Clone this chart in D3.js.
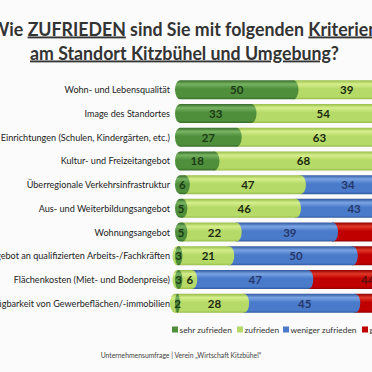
<!DOCTYPE html>
<html><head><meta charset="utf-8">
<script src="https://cdn.jsdelivr.net/npm/d3@7"></script>
<style>
html,body{margin:0;padding:0;background:#fbfbfb;overflow:hidden;}
svg{display:block;}
</style></head>
<body>
<script>
const categories = [
  "Wohn- und Lebensqualität",
  "Image des Standortes",
  "Soziale Einrichtungen (Schulen, Kindergärten, etc.)",
  "Kultur- und Freizeitangebot",
  "Überregionale Verkehrsinfrastruktur",
  "Aus- und Weiterbildungsangebot",
  "Wohnungsangebot",
  "Angebot an qualifizierten Arbeits-/Fachkräften",
  "Flächenkosten (Miet- und Bodenpreise)",
  "Verfügbarkeit von Gewerbeflächen/-immobilien"
];
const seriesNames = ["sehr zufrieden","zufrieden","weniger zufrieden","gar nicht zufrieden"];
const sehrZufrieden    = [50,33,27,18,6,5,5,3,3,2];
const zufrieden        = [39,54,63,68,47,46,22,21,6,28];
const wenigerZufrieden = [9,11,9,12,34,43,39,50,47,45];
const garNicht         = [2,2,1,2,13,6,34,26,44,25];
const seriesValues = [sehrZufrieden, zufrieden, wenigerZufrieden, garNicht];
const colors = ["#4f8f3c","#b6da68","#4a7bca","#c00000"];
const lightC = ["#78b362","#d6ee8c","#7aa3e3","#e03828"];
const darkC  = ["#356b28","#97bd48","#30599f","#900000"];
const labelColors = ["#1d3a17","#1d2a10","#26386a","#5a1010"];
const titleLine1 = [["Wie ",false],["ZUFRIEDEN",true],[" sind Sie mit folgenden ",false],["Kriterien",true]];
const titleLine2 = [["am Standort Kitzbühel und Umgebung",true],["?",false]];
const sourceText = "Unternehmensumfrage | Verein „Wirtschaft Kitzbühel“";

const W=372,H=372;
const FONT="Lato, 'Open Sans', sans-serif";
const svg=d3.select("body").append("svg").attr("width",W).attr("height",H);
svg.append("rect").attr("width",W).attr("height",H).attr("fill","#fbfbfb");

const defs=svg.append("defs");
colors.forEach((c,i)=>{
  const g=defs.append("linearGradient").attr("id","g"+i).attr("x1",0).attr("y1",0).attr("x2",0).attr("y2",1);
  g.append("stop").attr("offset","0%").attr("stop-color",darkC[i]);
  g.append("stop").attr("offset","20%").attr("stop-color",lightC[i]);
  g.append("stop").attr("offset","45%").attr("stop-color",c);
  g.append("stop").attr("offset","88%").attr("stop-color",c);
  g.append("stop").attr("offset","100%").attr("stop-color",darkC[i]);
});

// title
const cx=184.5, tfs=18.5;
function titleLine(parts,y){
  const t=svg.append("text").attr("x",cx).attr("y",y).attr("text-anchor","middle")
    .attr("font-family",FONT).attr("font-weight","bold").attr("fill","#333")
    .attr("font-size",tfs);
  parts.forEach(p=>t.append("tspan").text(p[0]).attr("text-decoration",p[1]?"underline":null));
  return t;
}
const t2=titleLine(titleLine2,59.5);
const t1=titleLine(titleLine1,35.5);
const w2=t2.node().getComputedTextLength();
const w1=t1.node().getComputedTextLength();
const k=309/w2;
t2.attr("textLength",w2*k).attr("lengthAdjust","spacingAndGlyphs");
t1.attr("textLength",w1*k).attr("lengthAdjust","spacingAndGlyphs");

const x=d3.scaleLinear().domain([0,100]).range([175,422]);
const y=d3.scaleBand().domain(categories).range([75.5,317.5]).padding(0.2);
const bh=y.bandwidth();
const rx=5;

// category labels
svg.append("g").selectAll("text").data(categories).join("text")
  .attr("x",170).attr("y",d=>y(d)+bh/2+3.5).attr("text-anchor","end")
  .attr("font-family",FONT).attr("font-size",9.1).attr("fill","#222")
  .text(d=>d);

// bars
const rows=categories.map((c,ri)=>{
  let acc=0;
  return seriesValues.map((s,si)=>{const v=s[ri];const d={cat:c,si,v,x0:acc,x1:acc+v};acc+=v;return d;});
});
const rowG=svg.append("g").selectAll("g").data(rows).join("g");
rowG.each(function(segs){
  const g=d3.select(this);
  segs.slice().reverse().forEach(d=>{
    const xs = d.si===0 ? x(d.x0) : x(d.x0)-2*rx;
    g.append("rect").attr("x",xs).attr("y",y(d.cat)).attr("width",x(d.x1)-xs).attr("height",bh)
      .attr("rx",rx).attr("ry",bh/2).attr("fill","url(#g"+d.si+")");
  });
  segs.forEach(d=>{
    g.append("text").attr("x",(x(d.x0)+x(d.x1))/2).attr("y",y(d.cat)+bh/2+4.5)
      .attr("text-anchor","middle").attr("font-family",FONT)
      .attr("font-weight","bold").attr("font-size",11.5).attr("fill",labelColors[d.si]).text(d.v);
  });
});

// legend
const legX=[172,237,283,362];
const lg=svg.append("g").selectAll("g").data(seriesNames).join("g")
  .attr("transform",(d,i)=>`translate(${legX[i]},333)`);
lg.append("rect").attr("x",0).attr("y",-6.5).attr("width",6).attr("height",6).attr("fill",(d,i)=>colors[i]);
lg.append("text").attr("x",7.5).attr("y",0).attr("font-family",FONT)
  .attr("font-size",8.4).attr("fill","#333").text(d=>d);

svg.append("text").attr("x",181).attr("y",358).attr("text-anchor","middle")
  .attr("font-family",FONT).attr("font-size",6.8).attr("fill","#444").text(sourceText);
</script>
</body></html>
